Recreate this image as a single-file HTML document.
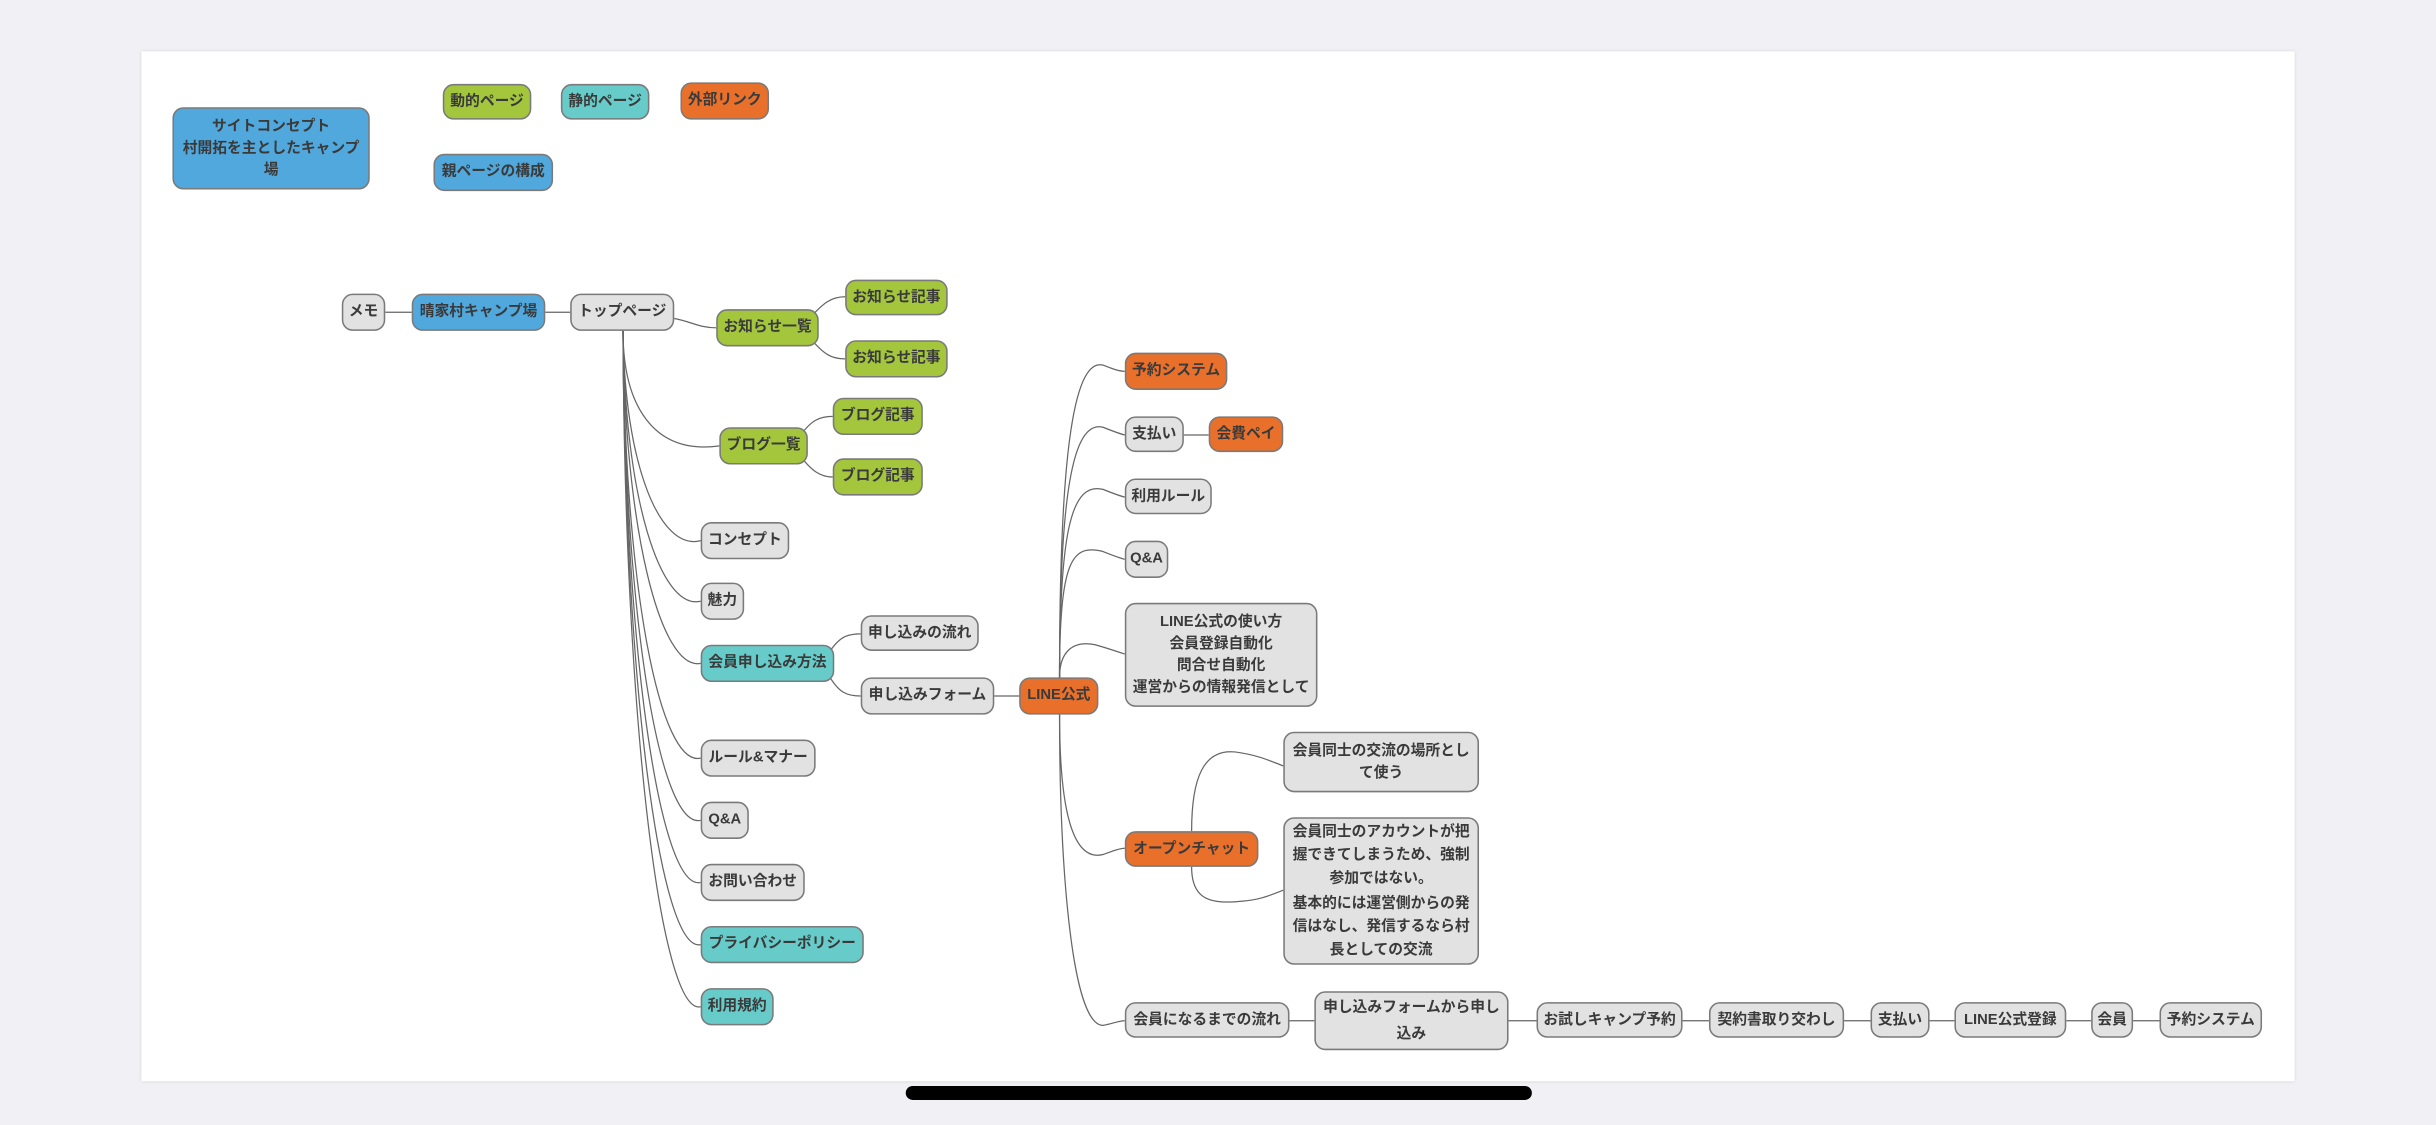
<!DOCTYPE html>
<html><head><meta charset="utf-8">
<style>
html,body{margin:0;padding:0;background:#f0f0f5;width:2436px;height:1125px;overflow:hidden}
#wrap{position:absolute;left:0;top:0;width:1568px;height:724px;transform:scale(1.5536);transform-origin:0 0;font-family:"Liberation Sans","Noto Sans CJK JP",sans-serif}
#panel{position:absolute;left:91px;top:33px;width:1386px;height:663px;background:#fff;box-shadow:0 0 2px #ccc}
#bar{position:absolute;left:583px;top:699px;width:403px;height:9px;background:#000;border-radius:5px}
.n{position:absolute;box-sizing:border-box;border:1px solid #7a7a7a;border-radius:7px;display:flex;align-items:center;justify-content:center;text-align:center;font-size:9.5px;font-weight:bold;color:#3a3a3a;line-height:14px;background:#e2e2e2;white-space:nowrap}
.g{background:#a3c63c}.t{background:#67cbc9}.o{background:#e9702b}.b{background:#50a8dd}
.w{white-space:normal}
svg{position:absolute;left:0;top:0}
</style></head><body>
<div id="wrap">
<div id="panel"></div>
<div id="bar"></div>
<svg width="1568" height="724" fill="none" stroke="#666" stroke-width="0.8">
<path d="M248 201H265M351 201H367"/>
<path d="M434 205C445 207 450 211 461 211"/>
<path d="M521 205C530 195 535 191 544 191M521 217C530 228 535 231 544 231"/>
<path d="M401 213C401 260 420 293 463 287"/>
<path d="M514 282C522 270 528 268 536 268M514 292C522 303 528 307 536 307"/>
<path d="M401 213C402 300 425 355 451 348"/>
<path d="M401 213C402 320 425 393 451 387"/>
<path d="M401 213C402 340 425 432 451 427"/>
<path d="M401 213C402 380 425 494 451 488"/>
<path d="M401 213C402 400 425 534 451 528"/>
<path d="M401 213C402 420 425 574 451 568"/>
<path d="M401 213C402 440 425 614 451 608"/>
<path d="M401 213C402 460 425 654 451 648"/>
<path d="M533 421C540 410 545 408 554 408M533 434C540 446 545 448 554 448"/>
<path d="M640 448H656"/>
<path d="M682 436C682 300 690 230 710 235C715 237 720 239 724 239"/>
<path d="M682 436C682 320 690 270 710 275C715 277 720 279 724 280"/>
<path d="M682 436C682 340 690 310 710 315C715 317 720 319 724 320"/>
<path d="M682 436C682 360 690 350 710 355C715 357 720 359 724 360"/>
<path d="M682 436C682 420 690 412 705 415C712 417 718 419 724 421"/>
<path d="M762 280H778"/>
<path d="M682 460C682 520 690 555 710 550C716 548 720 546 724 546"/>
<path d="M682 460C682 560 690 660 710 660C716 659 720 657 724 657"/>
<path d="M767 535C767 500 775 482 795 484C810 486 818 490 826 493"/>
<path d="M767 558C767 580 780 582 800 580C812 579 818 576 826 573"/>
<path d="M830 657H846M971 657H989M1083 657H1100M1187 657H1204M1242 657H1258M1330 657H1346M1373 657H1390"/>
</svg>
<div class="n b w" style="left:111px;top:69px;width:127px;height:53px">サイトコンセプト<br>村開拓を主としたキャンプ<br>場</div>
<div class="n g" style="left:285px;top:54px;width:57px;height:23px">動的ページ</div>
<div class="n t" style="left:361px;top:54px;width:57px;height:23px">静的ページ</div>
<div class="n o" style="left:438px;top:53px;width:57px;height:24px">外部リンク</div>
<div class="n b" style="left:279px;top:99px;width:77px;height:24px">親ページの構成</div>
<div class="n" style="left:220px;top:189px;width:28px;height:24px">メモ</div>
<div class="n b" style="left:265px;top:189px;width:86px;height:24px">晴家村キャンプ場</div>
<div class="n" style="left:367px;top:189px;width:67px;height:24px">トップページ</div>
<div class="n g" style="left:461px;top:199px;width:66px;height:24px">お知らせ一覧</div>
<div class="n g" style="left:544px;top:180px;width:66px;height:23px">お知らせ記事</div>
<div class="n g" style="left:544px;top:219px;width:66px;height:24px">お知らせ記事</div>
<div class="n g" style="left:463px;top:275px;width:57px;height:24px">ブログ一覧</div>
<div class="n g" style="left:536px;top:256px;width:58px;height:24px">ブログ記事</div>
<div class="n g" style="left:536px;top:295px;width:58px;height:24px">ブログ記事</div>
<div class="n" style="left:451px;top:336px;width:57px;height:24px">コンセプト</div>
<div class="n" style="left:451px;top:375px;width:28px;height:24px">魅力</div>
<div class="n t" style="left:451px;top:415px;width:86px;height:24px">会員申し込み方法</div>
<div class="n" style="left:554px;top:396px;width:76px;height:23px">申し込みの流れ</div>
<div class="n" style="left:554px;top:436px;width:86px;height:24px">申し込みフォーム</div>
<div class="n o" style="left:656px;top:436px;width:51px;height:24px">LINE公式</div>
<div class="n" style="left:451px;top:476px;width:74px;height:24px">ルール&amp;マナー</div>
<div class="n" style="left:451px;top:516px;width:31px;height:24px">Q&amp;A</div>
<div class="n" style="left:451px;top:556px;width:67px;height:24px">お問い合わせ</div>
<div class="n t" style="left:451px;top:596px;width:105px;height:24px">プライバシーポリシー</div>
<div class="n t" style="left:451px;top:636px;width:47px;height:24px">利用規約</div>
<div class="n o" style="left:724px;top:227px;width:66px;height:24px">予約システム</div>
<div class="n" style="left:724px;top:268px;width:38px;height:23px">支払い</div>
<div class="n o" style="left:778px;top:268px;width:48px;height:23px">会費ペイ</div>
<div class="n" style="left:724px;top:308px;width:56px;height:23px">利用ルール</div>
<div class="n" style="left:724px;top:348px;width:28px;height:24px">Q&amp;A</div>
<div class="n" style="left:724px;top:388px;width:124px;height:67px">LINE公式の使い方<br>会員登録自動化<br>問合せ自動化<br>運営からの情報発信として</div>
<div class="n" style="left:826px;top:471px;width:126px;height:39px">会員同士の交流の場所とし<br>て使う</div>
<div class="n o" style="left:724px;top:535px;width:86px;height:23px">オープンチャット</div>
<div class="n" style="left:826px;top:526px;width:126px;height:95px;line-height:15.2px">会員同士のアカウントが把<br>握できてしまうため、強制<br>参加ではない。<br>基本的には運営側からの発<br>信はなし、発信するなら村<br>長としての交流</div>
<div class="n" style="left:724px;top:645px;width:106px;height:23px">会員になるまでの流れ</div>
<div class="n" style="left:846px;top:638px;width:125px;height:38px;line-height:17px">申し込みフォームから申し<br>込み</div>
<div class="n" style="left:989px;top:645px;width:94px;height:23px">お試しキャンプ予約</div>
<div class="n" style="left:1100px;top:645px;width:87px;height:23px">契約書取り交わし</div>
<div class="n" style="left:1204px;top:645px;width:38px;height:23px">支払い</div>
<div class="n" style="left:1258px;top:645px;width:72px;height:23px">LINE公式登録</div>
<div class="n" style="left:1346px;top:645px;width:27px;height:23px">会員</div>
<div class="n" style="left:1390px;top:645px;width:66px;height:23px">予約システム</div>
</div>
</body></html>
